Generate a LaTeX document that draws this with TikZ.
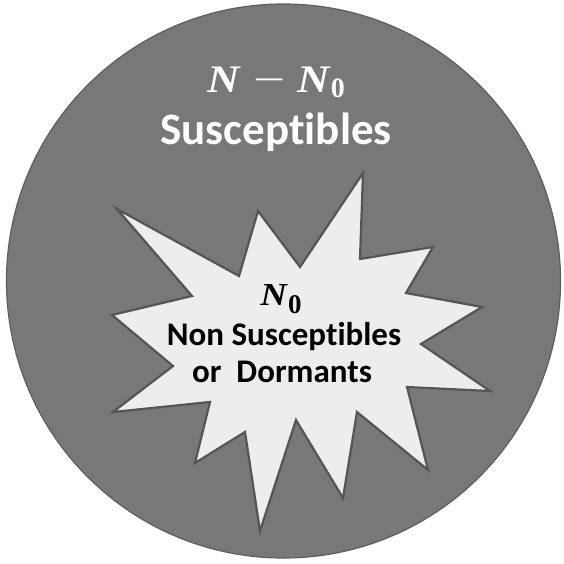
\documentclass[tikz,border=0pt]{standalone}
\usepackage{fontspec}
\setsansfont{Carlito}[Ligatures=NoCommon]
\newfontfamily\mserif{Liberation Serif}
\definecolor{diskgray}{HTML}{787878}
\definecolor{diskedge}{HTML}{5E5E5E}
\definecolor{starfill}{HTML}{EDEDED}
\definecolor{staredge}{HTML}{555555}
\newcommand{\bigsans}{\sffamily\bfseries\fontsize{45}{48}\selectfont}
\newcommand{\midsans}{\sffamily\bfseries\fontsize{33}{36}\selectfont}
\newcommand{\varN}[1]{\scalebox{1.15}[1]{\mserif\bfseries\itshape\fontsize{#1}{#1}\selectfont N}}
\newcommand{\subzero}[2]{\raisebox{-#2pt}{\mserif\bfseries\fontsize{#1}{#1}\selectfont 0}}
\newcommand{\minusglyph}{\scalebox{1.5}[1]{\mserif\fontsize{38}{38}\selectfont −}}
\tikzset{
  lbl/.style={anchor=base, inner sep=0pt},
}
\begin{document}
\begin{tikzpicture}[x=1pt, y=-1pt]
\useasboundingbox (0,0) rectangle (563,564);
\fill[white] (0,0) rectangle (563,564);
% outer disk
\draw[line width=1.2pt, diskedge, fill=diskgray] (283.5,281) circle[radius=277];
% starburst
\draw[line width=2.2pt, staredge, fill=starfill, line join=miter]
  (363,173) -- (360,259) -- (433,247) -- (406,293) -- (482,307) -- (421,344)
  -- (490,391) -- (407,387) -- (428,470) -- (357,412) -- (343,498) -- (296,420)
  -- (260,531) -- (245,432) -- (195,463) -- (210,402) -- (113,412) -- (173,366)
  -- (112,315) -- (192,296) -- (117,209) -- (239,276) -- (258,211) -- (300,267)
  -- cycle;
% texts
\node[lbl, text=white] (nn0) at (276,93)
  {\varN{39}\hspace{14pt}\minusglyph\hspace{12pt}\varN{39}\hspace{1pt}\subzero{28}{5}};
\node[lbl, text=white, font=\bigsans] (sus) at (276,145) {Susceptibles};
\node[lbl, text=black] (n0) at (281,305) {\varN{32}\hspace{1pt}\subzero{27}{8}};
\node[lbl, text=black, font=\midsans] (non) at (284,345) {Non Susceptibles};
\node[lbl, text=black, font=\midsans] (dor) at (282,382) {or\ \ Dormants};
\end{tikzpicture}
\end{document}
